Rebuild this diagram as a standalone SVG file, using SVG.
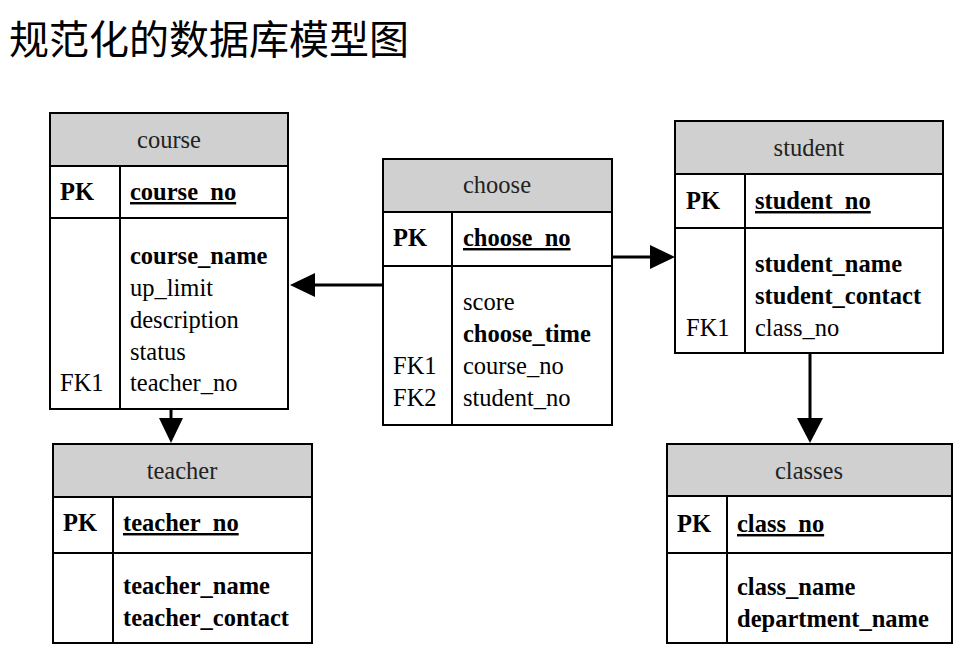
<svg xmlns="http://www.w3.org/2000/svg" width="959" height="653" viewBox="0 0 959 653">
<style>
.box{fill:#fff;stroke:#000;stroke-width:2}
.hdr{fill:#d0d0d0;stroke:#000;stroke-width:2}
.ln{stroke:#000;stroke-width:2;fill:none}
.t{font-family:'Liberation Serif','DejaVu Serif',serif;font-size:24.5px;fill:#000}
.h{text-anchor:middle;fill:#222}
.b{font-weight:bold}
.u{text-decoration:underline}
.title{font-family:'Noto Sans CJK SC','Noto Sans',sans-serif;font-size:40px;fill:#000}
.conn{stroke:#000;stroke-width:3;fill:none}
</style>
<rect width="959" height="653" fill="#fff"/>
<text class="title" x="9" y="54">规范化的数据库模型图</text>

<g id="connectors">
<line class="conn" x1="383" y1="285" x2="315" y2="285"/>
<path d="M315,273 L290,285 L315,297 z" fill="#000"/>
<line class="conn" x1="612" y1="257" x2="650" y2="257"/>
<path d="M650,245 L675,257 L650,269 z" fill="#000"/>
<line class="conn" x1="171" y1="409" x2="171" y2="418"/>
<path d="M159,418 L171,443 L183,418 z" fill="#000"/>
<line class="conn" x1="810" y1="353" x2="810" y2="418"/>
<path d="M797,418 L810,443 L823,418 z" fill="#000"/>
</g>

<g id="course">
<rect class="box" x="50" y="113" width="238" height="296"/>
<rect class="hdr" x="50" y="113" width="238" height="53"/>
<line class="ln" x1="50" y1="218" x2="288" y2="218"/>
<line class="ln" x1="120" y1="166" x2="120" y2="409"/>
<text class="t h" x="169" y="148" font-family="Liberation Serif, serif">course</text>
<text class="t b" x="60" y="200">PK</text>
<text class="t b u" x="130" y="200">course_no</text>
<text class="t b" x="130" y="264">course_name</text>
<text class="t" x="130" y="296">up_limit</text>
<text class="t" x="130" y="328">description</text>
<text class="t" x="130" y="360">status</text>
<text class="t" x="60" y="391">FK1</text>
<text class="t" x="130" y="391">teacher_no</text>
</g>

<g id="choose">
<rect class="box" x="383" y="159" width="229" height="266"/>
<rect class="hdr" x="383" y="159" width="229" height="53"/>
<line class="ln" x1="383" y1="266" x2="612" y2="266"/>
<line class="ln" x1="452" y1="212" x2="452" y2="425"/>
<text class="t h" x="497" y="193">choose</text>
<text class="t b" x="393" y="246">PK</text>
<text class="t b u" x="463" y="246">choose_no</text>
<text class="t" x="463" y="310">score</text>
<text class="t b" x="463" y="342">choose_time</text>
<text class="t" x="393" y="374">FK1</text>
<text class="t" x="463" y="374">course_no</text>
<text class="t" x="393" y="406">FK2</text>
<text class="t" x="463" y="406">student_no</text>
</g>

<g id="student">
<rect class="box" x="675" y="121" width="268" height="232"/>
<rect class="hdr" x="675" y="121" width="268" height="53"/>
<line class="ln" x1="675" y1="228" x2="943" y2="228"/>
<line class="ln" x1="745" y1="174" x2="745" y2="353"/>
<text class="t h" x="809" y="156">student</text>
<text class="t b" x="686" y="209">PK</text>
<text class="t b u" x="755" y="209">student_no</text>
<text class="t b" x="755" y="272">student_name</text>
<text class="t b" x="755" y="304">student_contact</text>
<text class="t" x="686" y="336">FK1</text>
<text class="t" x="755" y="336">class_no</text>
</g>

<g id="teacher">
<rect class="box" x="53" y="444" width="259" height="199"/>
<rect class="hdr" x="53" y="444" width="259" height="53"/>
<line class="ln" x1="53" y1="553" x2="312" y2="553"/>
<line class="ln" x1="113" y1="497" x2="113" y2="643"/>
<text class="t h" x="182" y="479">teacher</text>
<text class="t b" x="63" y="531">PK</text>
<text class="t b u" x="123" y="531">teacher_no</text>
<text class="t b" x="123" y="594">teacher_name</text>
<text class="t b" x="123" y="626">teacher_contact</text>
</g>

<g id="classes">
<rect class="box" x="667" y="444" width="285" height="199"/>
<rect class="hdr" x="667" y="444" width="285" height="52"/>
<line class="ln" x1="667" y1="553" x2="952" y2="553"/>
<line class="ln" x1="727" y1="496" x2="727" y2="643"/>
<text class="t h" x="809" y="479">classes</text>
<text class="t b" x="677" y="532">PK</text>
<text class="t b u" x="737" y="532">class_no</text>
<text class="t b" x="737" y="595">class_name</text>
<text class="t b" x="737" y="627">department_name</text>
</g>
</svg>
